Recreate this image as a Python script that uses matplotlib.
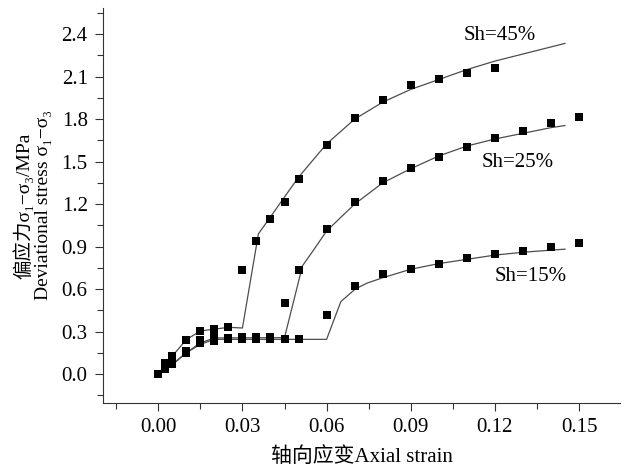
import numpy as np
import matplotlib.pyplot as plt
from matplotlib.ticker import MultipleLocator

plt.rcParams['font.family'] = ['Liberation Serif', 'DejaVu Serif', 'Noto Sans CJK SC']
plt.rcParams['font.size'] = 15

# measured points
x45 = [0, 0.0025, 0.005, 0.01, 0.015, 0.02, 0.025, 0.03, 0.035, 0.04, 0.045,
       0.05, 0.06, 0.07, 0.08, 0.09, 0.10, 0.11, 0.12]
y45 = [0, 0.08, 0.127, 0.243, 0.304, 0.316, 0.333, 0.734, 0.936, 1.095, 1.217,
       1.378, 1.616, 1.807, 1.932, 2.038, 2.085, 2.128, 2.163]

x25 = [0, 0.0025, 0.005, 0.01, 0.015, 0.02, 0.025, 0.03, 0.035, 0.04, 0.045,
       0.05, 0.06, 0.07, 0.08, 0.09, 0.10, 0.11, 0.12, 0.13, 0.14, 0.15]
y25 = [0, 0.033, 0.068, 0.151, 0.219, 0.262, 0.258, 0.26, 0.262, 0.262, 0.505,
       0.736, 1.024, 1.212, 1.366, 1.455, 1.536, 1.606, 1.667, 1.715, 1.774, 1.814]

x15 = [0, 0.0025, 0.005, 0.01, 0.015, 0.02, 0.025, 0.03, 0.035, 0.04, 0.045,
       0.05, 0.06, 0.07, 0.08, 0.09, 0.10, 0.11, 0.12, 0.13, 0.14, 0.15]
y15 = [0, 0.04, 0.07, 0.16, 0.24, 0.235, 0.245, 0.25, 0.25, 0.25, 0.245,
       0.245, 0.418, 0.623, 0.705, 0.745, 0.776, 0.816, 0.847, 0.866, 0.899, 0.925]

# fitted curves (vertices)
fx45 = [0, 0.005, 0.01, 0.015, 0.025, 0.03, 0.0357, 0.04, 0.045, 0.05, 0.06,
        0.07, 0.08, 0.09, 0.10, 0.11, 0.12, 0.13, 0.14, 0.145]
fy45 = [0, 0.127, 0.243, 0.304, 0.33, 0.325, 0.99, 1.11, 1.25, 1.39, 1.625,
        1.80, 1.92, 2.01, 2.08, 2.15, 2.21, 2.26, 2.31, 2.335]

fx25 = [0, 0.005, 0.01, 0.015, 0.02, 0.045, 0.0514, 0.056, 0.06, 0.07, 0.08,
        0.09, 0.10, 0.11, 0.12, 0.13, 0.14, 0.145]
fy25 = [0, 0.07, 0.15, 0.22, 0.255, 0.257, 0.764, 0.894, 1.01, 1.20, 1.35,
        1.45, 1.54, 1.61, 1.66, 1.70, 1.74, 1.755]

fx15 = [0, 0.005, 0.01, 0.015, 0.02, 0.06, 0.0651, 0.0702, 0.0744, 0.08, 0.09,
        0.10, 0.11, 0.12, 0.13, 0.14, 0.145]
fy15 = [0, 0.065, 0.15, 0.21, 0.245, 0.245, 0.512, 0.60, 0.642, 0.68, 0.74,
        0.78, 0.81, 0.84, 0.86, 0.875, 0.882]

labels = ['Sh=45%', 'Sh=25%', 'Sh=15%']
label_pos = [(0.1219, 2.39), (0.128, 1.495), (0.1326, 0.69)]

fig = plt.figure(figsize=(6.32, 4.70), dpi=100)
ax = fig.add_axes([0.163, 0.143, 0.818, 0.84])

lc = '#4d4d4d'
for fx, fy in [(fx45, fy45), (fx25, fy25), (fx15, fy15)]:
    ax.plot(fx, fy, '-', color=lc, lw=0.9, zorder=2)
for x, y in [(x45, y45), (x25, y25), (x15, y15)]:
    ax.plot(x, y, 's', color='black', ms=6, mew=0, zorder=3)

for lab, (tx, ty) in zip(labels, label_pos):
    ax.text(tx, ty, lab, ha='center', va='center', fontsize=15)

ax.set_xlim(-0.0197, 0.1646)
ax.set_ylim(-0.203, 2.585)
ax.xaxis.set_major_locator(MultipleLocator(0.03))
ax.xaxis.set_minor_locator(MultipleLocator(0.015))
ax.yaxis.set_major_locator(MultipleLocator(0.3))
ax.yaxis.set_minor_locator(MultipleLocator(0.15))
ax.xaxis.set_major_formatter(plt.FuncFormatter(lambda v, p: f'{v:.2f}'))
ax.yaxis.set_major_formatter(plt.FuncFormatter(lambda v, p: f'{v:.1f}'))

ax.spines['top'].set_visible(False)
ax.spines['right'].set_visible(False)
for s in ['left', 'bottom']:
    ax.spines[s].set_color('#333333')
    ax.spines[s].set_linewidth(0.8)
ax.tick_params(which='major', direction='out', length=6, width=0.8, color='#333333', labelsize=15, pad=5)
ax.tick_params(which='minor', direction='out', length=4, width=0.8, color='#333333')

ax.set_xlabel('轴向应变Axial strain', fontsize=15, labelpad=7)
ax.set_ylabel('偏应力σ₁−σ₃/MPa\nDeviational stress σ₁−σ₃', fontsize=14, labelpad=7, linespacing=1.1)

fig.savefig('out.png', dpi=100)
